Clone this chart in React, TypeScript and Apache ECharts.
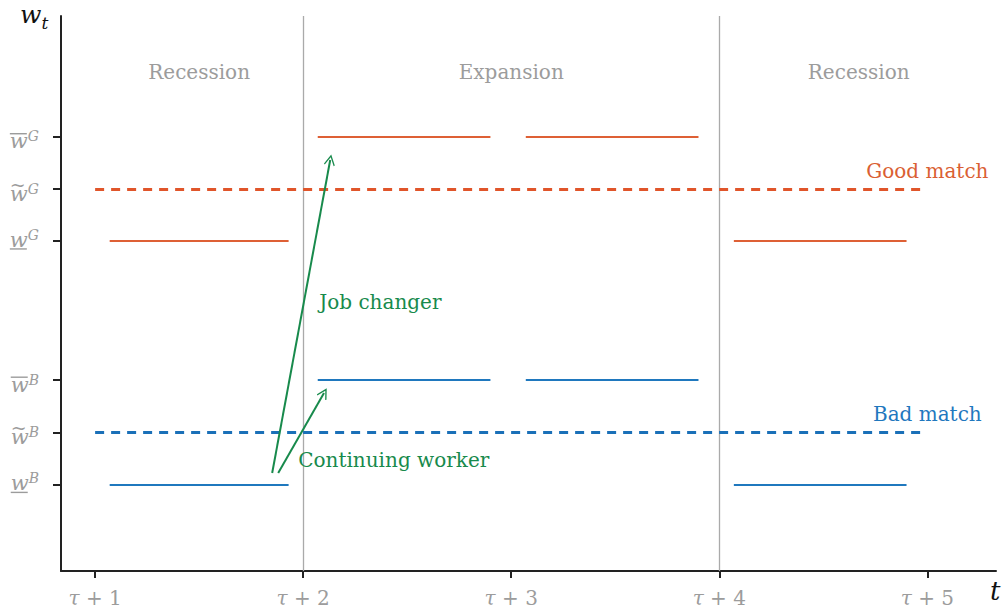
import React, { useEffect, useRef } from "react";
import * as echarts from "echarts";

// ---- data ----
const periodTicks = [1, 2, 3, 4, 5];
const periodLabels = ["τ + 1", "τ + 2", "τ + 3", "τ + 4", "τ + 5"];

const wageLevels = [1.65, 2.65, 3.65, 6.3, 7.3, 8.3];
const wageMarks = ["under", "tilde", "over", "under", "tilde", "over"];
const wageGroups = ["B", "B", "B", "G", "G", "G"];

const phaseBoundaries = [2, 4];
const phaseNames = ["Recession", "Expansion", "Recession"];
const phaseCenters = [1.5, 3.0, 4.67];
const phaseLabelY = 9.53;

// [start, end, level]
const goodSegments = [
  [1.07, 1.93, 6.3],
  [2.07, 2.9, 8.3],
  [3.07, 3.9, 8.3],
  [4.07, 4.9, 6.3],
];
const badSegments = [
  [1.07, 1.93, 1.65],
  [2.07, 2.9, 3.65],
  [3.07, 3.9, 3.65],
  [4.07, 4.9, 1.65],
];
const goodAverage = 7.3;
const badAverage = 2.65;
const averageSpan = [1.0, 4.98];

const jobChangerArrow = [
  [1.851, 1.872],
  [2.13, 7.85],
];
const continuingArrow = [
  [1.88, 1.872],
  [2.1, 3.4],
];

const annotations = [
  { name: "Good match", x: 5.0, y: 7.64, color: "#DA5F33", pos: "inside" },
  { name: "Bad match", x: 5.0, y: 3.0, color: "#1F78BE", pos: "inside" },
  { name: "Job changer", x: 2.077, y: 5.14, color: "#188A4C", pos: "right" },
  { name: "Continuing worker", x: 1.976, y: 2.12, color: "#188A4C", pos: "right" },
];

const X_MIN = 0.836;
const X_MAX = 5.33;
const Y_MIN = 0;
const Y_MAX = 10.6;

const ORANGE = "#DE6035";
const BLUE = "#1F78BE";
const GREEN = "#188A4C";
const GRAY = "#9c9c9c";
const SERIF = "DejaVu Serif";

const chevron = "path://M10,0 L20,15 L18.2,16.4 L10,4.2 L1.8,16.4 L0,15 Z";

export default function App() {
  const ref = useRef<HTMLDivElement>(null);

  useEffect(() => {
    document.body.style.margin = "0";
    const chart = echarts.init(ref.current!, null, { renderer: "svg" });

    const segLines = (segs: number[][], color: string, name: string) => ({
      type: "lines",
      name,
      coordinateSystem: "cartesian2d",
      polyline: false,
      silent: true,
      symbol: "none",
      lineStyle: { color, width: 2, opacity: 1 },
      data: segs.map((s) => ({ coords: [[s[0], s[2]], [s[1], s[2]]] })),
      z: 3,
    });

    const option: any = {
      animation: false,
      grid: { left: 61, right: 8, top: 16, bottom: 38, containLabel: false },
      xAxis: {
        type: "value",
        min: X_MIN,
        max: X_MAX,
        splitLine: { show: false },
        axisLine: { show: true, onZero: false, lineStyle: { color: "#222", width: 2 } },
        axisTick: {
          show: true,
          customValues: periodTicks,
          length: 7,
          lineStyle: { color: "#222", width: 2 },
        },
        axisLabel: {
          show: true,
          customValues: periodTicks,
          margin: 17,
          formatter: (v: number) => {
            const i = periodTicks.findIndex((p) => Math.abs(p - v) < 1e-6);
            if (i < 0) return "";
            const rest = periodLabels[i].replace("τ", "");
            return "{i|τ}{r|" + rest + "}";
          },
          rich: {
            i: { fontFamily: SERIF, fontStyle: "italic", fontSize: 20, color: GRAY },
            r: { fontFamily: SERIF, fontSize: 20, color: GRAY },
          },
        },
      },
      yAxis: {
        type: "value",
        min: Y_MIN,
        max: Y_MAX,
        splitLine: { show: false },
        axisLine: { show: true, onZero: false, lineStyle: { color: "#222", width: 2 } },
        axisTick: {
          show: true,
          customValues: wageLevels,
          length: 8,
          lineStyle: { color: "#222", width: 2 },
        },
        axisLabel: {
          show: true,
          customValues: wageLevels,
          margin: 22,
          formatter: (v: number) => {
            const i = wageLevels.findIndex((p) => Math.abs(p - v) < 1e-6);
            if (i < 0) return "";
            const core = "{w|w}{s|" + wageGroups[i] + "}";
            if (wageMarks[i] === "over") return "{bar|}\n" + core;
            if (wageMarks[i] === "tilde") return "{til|~}\n" + core;
            return core + "\n{ul|}";
          },
          rich: {
            w: {
              fontFamily: SERIF,
              fontStyle: "italic",
              fontSize: 21,
              lineHeight: 14,
              align: "left",
              color: GRAY,
            },
            s: {
              fontFamily: SERIF,
              fontStyle: "italic",
              fontSize: 14,
              lineHeight: 14,
              height: 4,
              align: "left",
              verticalAlign: "top",
              color: GRAY,
            },
            bar: {
              width: 17,
              height: 1.4,
              lineHeight: 10,
              align: "left",
              verticalAlign: "bottom",
              backgroundColor: GRAY,
            },
            ul: {
              width: 17,
              height: 1.4,
              lineHeight: 3,
              align: "left",
              verticalAlign: "bottom",
              backgroundColor: GRAY,
            },
            til: {
              fontFamily: SERIF,
              fontSize: 19,
              lineHeight: 10,
              height: 6,
              align: "left",
              verticalAlign: "bottom",
              color: GRAY,
            },
          },
        },
      },
      graphic: [
        {
          type: "text",
          left: 20,
          top: 2,
          style: {
            text: "{a|w}{b|t}",
            rich: {
              a: { fontFamily: SERIF, fontStyle: "italic", fontSize: 25, lineHeight: 26, fill: "#111" },
              b: {
                fontFamily: SERIF,
                fontStyle: "italic",
                fontSize: 17,
                lineHeight: 26,
                height: 10,
                verticalAlign: "bottom",
                fill: "#111",
              },
            },
          },
        },
        {
          type: "text",
          left: 990,
          top: 578,
          style: {
            text: "t",
            font: "italic 26px 'DejaVu Serif'",
            fill: "#111",
          },
        },
      ],
      series: [
        {
          type: "lines",
          name: "phase boundaries",
          coordinateSystem: "cartesian2d",
          silent: true,
          symbol: "none",
          lineStyle: { color: "#aaaaaa", width: 1.3, opacity: 1 },
          data: phaseBoundaries.map((b) => ({ coords: [[b, Y_MIN], [b, Y_MAX]] })),
          z: 1,
        },
        {
          type: "lines",
          name: "averages",
          coordinateSystem: "cartesian2d",
          silent: true,
          symbol: "none",
          data: [
            {
              coords: [[averageSpan[0], goodAverage], [averageSpan[1], goodAverage]],
              lineStyle: { color: "#E0552A", width: 3, type: [9, 7], opacity: 1 },
            },
            {
              coords: [[averageSpan[0], badAverage], [averageSpan[1], badAverage]],
              lineStyle: { color: "#1A70B8", width: 3, type: [9, 7], opacity: 1 },
            },
          ],
          z: 2,
        },
        segLines(goodSegments, ORANGE, "good"),
        segLines(badSegments, BLUE, "bad"),
        {
          type: "lines",
          name: "arrows",
          coordinateSystem: "cartesian2d",
          silent: true,
          symbol: ["none", chevron],
          symbolSize: 11,
          lineStyle: { color: GREEN, width: 2, opacity: 1 },
          itemStyle: { color: GREEN },
          data: [{ coords: jobChangerArrow }, { coords: continuingArrow }],
          z: 4,
        },
        {
          type: "scatter",
          name: "phases",
          symbolSize: 0,
          silent: true,
          clip: false,
          itemStyle: { opacity: 1 },
          label: {
            show: true,
            position: "inside",
            formatter: (p: any) => p.name,
            fontFamily: SERIF,
            fontSize: 20,
            color: GRAY,
          },
          data: phaseNames.map((n, i) => ({ name: n, value: [phaseCenters[i], phaseLabelY] })),
        },
        {
          type: "scatter",
          name: "annotations",
          symbolSize: 0,
          silent: true,
          clip: false,
          itemStyle: { opacity: 1 },
          data: annotations.map((a) => ({
            name: a.name,
            value: [a.x, a.y],
            label: {
              show: true,
              position: a.pos,
              distance: 0,
              formatter: (p: any) => p.name,
              fontFamily: SERIF,
              fontSize: 20,
              color: a.color,
            },
          })),
        },
      ],
    };

    chart.setOption(option);
    return () => chart.dispose();
  }, []);

  return <div ref={ref} style={{ width: 1004, height: 609 }} />;
}
